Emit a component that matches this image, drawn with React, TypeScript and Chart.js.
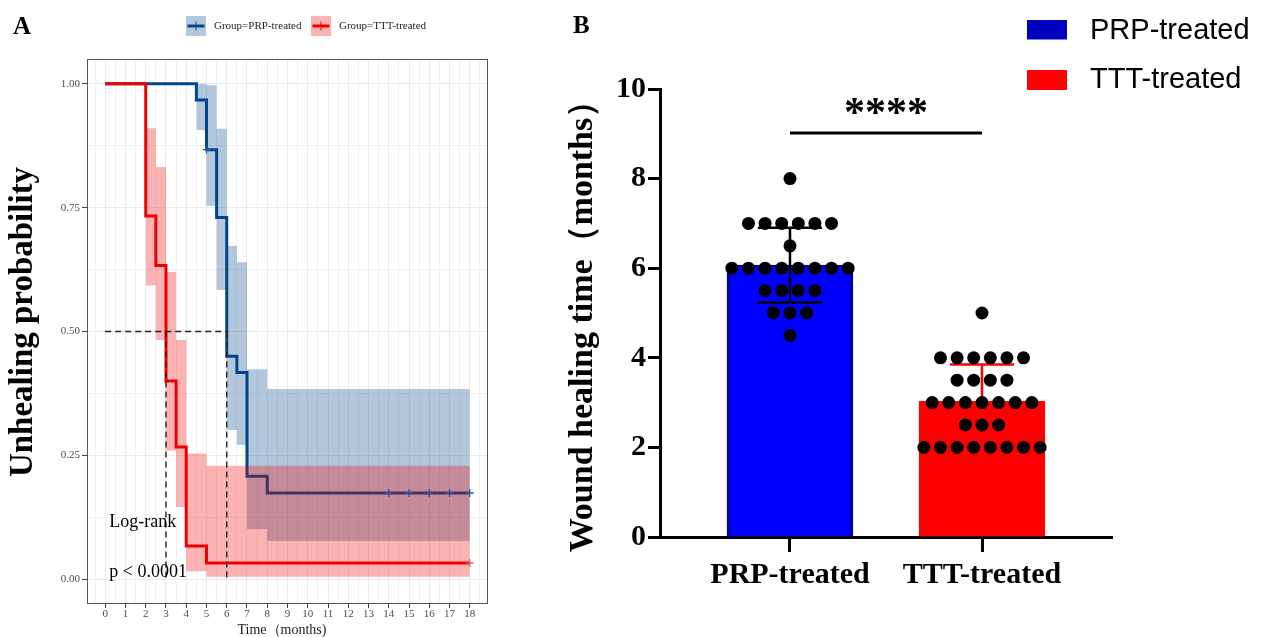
import React, { useEffect, useRef } from 'react';
import { Chart, registerables } from 'chart.js';

Chart.register(...registerables);

const SERIF = '"Liberation Serif", "Times New Roman", serif';
const SANS = '"Liberation Sans", Arial, sans-serif';

// ---------------- Panel A : Kaplan-Meier ----------------
const PRP_TIMES = [0, 4.5, 5, 5.5, 6, 6.5, 7, 8, 18];
const PRP_SURV = [1, 0.967, 0.867, 0.73, 0.45, 0.417, 0.208, 0.174, 0.174];
const PRP_CI_TIMES = [4.5, 5, 5.5, 6, 6.5, 7, 8, 18];
const PRP_UPPER = [1.0, 0.997, 0.909, 0.673, 0.64, 0.424, 0.384, 0.384];
const PRP_LOWER = [0.906, 0.754, 0.584, 0.301, 0.271, 0.101, 0.077, 0.077];
const PRP_CENSOR_TIMES = [5, 14, 15, 16, 17, 18];
const PRP_CENSOR_SURV = [0.867, 0.174, 0.174, 0.174, 0.174, 0.174];

const TTT_TIMES = [0, 2, 2.5, 3, 3.5, 4, 5, 18];
const TTT_SURV = [1, 0.733, 0.633, 0.4, 0.267, 0.067, 0.033, 0.033];
const TTT_CI_TIMES = [2, 2.5, 3, 3.5, 4, 5, 18];
const TTT_UPPER = [0.91, 0.832, 0.62, 0.483, 0.254, 0.229, 0.229];
const TTT_LOWER = [0.593, 0.483, 0.26, 0.146, 0.016, 0.005, 0.005];
const TTT_CENSOR_TIMES = [18];
const TTT_CENSOR_SURV = [0.033];

const MEDIAN_LEVEL = 0.5;
const MEDIAN_TIMES = [3, 6];

const X_TICKS_A = [0, 1, 2, 3, 4, 5, 6, 7, 8, 9, 10, 11, 12, 13, 14, 15, 16, 17, 18];
const X_MINOR_A = [-0.5, ...X_TICKS_A.map((v) => v + 0.5)];
const Y_TICKS_A = [0, 0.25, 0.5, 0.75, 1];
const Y_MINOR_A = [0.125, 0.375, 0.625, 0.875];

const LEGEND_A_LABELS = ['Group=PRP-treated', 'Group=TTT-treated'];
const LOGRANK_TEXT = ['Log-rank', 'p < 0.0001'];
const LOGRANK_X = 0.2;
const LOGRANK_Y = [0.106, 0.005];

const BLUE = '#00468B';
const RED = '#ED0000';
const BLUE_BAND = 'rgba(0,70,139,0.3)';
const RED_BAND = 'rgba(237,0,0,0.3)';

// ---------------- Panel B : bar + dots ----------------
const CATEGORIES = ['PRP-treated', 'TTT-treated'];
const BAR_MEANS = [6.07, 3.03];
const BAR_SD = [0.835, 0.82];
const PRP_DOTS = [8, 7, 7, 7, 7, 7, 7, 6.5, 6, 6, 6, 6, 6, 6, 6, 6, 5.5, 5.5, 5.5, 5.5, 5, 5, 5, 4.5];
const TTT_DOTS = [5, 4, 4, 4, 4, 4, 4, 3.5, 3.5, 3.5, 3.5, 3, 3, 3, 3, 3, 3, 3, 2.5, 2.5, 2.5, 2, 2, 2, 2, 2, 2, 2, 2];
const Y_TICKS_B = [0, 2, 4, 6, 8, 10];
const SIG_LEVEL = 9.02;
const SIG_TEXT = '****';

const pts = (xs: number[], ys: number[]) => xs.map((x, i) => ({ x, y: ys[i] }));

const DOT_SPACING = 0.0865;
function swarm(values: number[], center: number) {
  const counts = new Map<number, number>();
  values.forEach((v) => counts.set(v, (counts.get(v) || 0) + 1));
  const seen = new Map<number, number>();
  return values.map((v) => {
    const n = counts.get(v) as number;
    const i = seen.get(v) || 0;
    seen.set(v, i + 1);
    return { x: center + (i - (n - 1) / 2) * DOT_SPACING, y: v };
  });
}

const CAP_HALF = 0.167;
function errorBar(c: number, m: number, sd: number) {
  const lo = m - sd;
  const hi = m + sd;
  return [
    { x: c, y: lo }, { x: c, y: hi }, { x: c, y: null },
    { x: c - CAP_HALF, y: hi }, { x: c + CAP_HALF, y: hi }, { x: c, y: null },
    { x: c - CAP_HALF, y: lo }, { x: c + CAP_HALF, y: lo },
  ];
}

const GRID_MAJOR = '#EBEBEB';
const GRID_MINOR = '#F1F1F1';
const STEP = 'before';

function configA(): any {
  const isMajorX = (v: number) => X_TICKS_A.includes(v);
  const isMajorY = (v: number) => Y_TICKS_A.includes(v);
  const band = (x: number[], y: number[], color: string, fill: any, order: number) => ({
    type: 'line', data: pts(x, y), stepped: STEP, borderWidth: 0, borderColor: 'rgba(0,0,0,0)',
    pointRadius: 0, fill, backgroundColor: color, order,
  });
  const plugin = {
    id: 'panelA',
    afterDatasetsDraw(chart: any) {
      const { ctx, chartArea: a, scales } = chart;
      ctx.save();
      ctx.strokeStyle = '#555555';
      ctx.lineWidth = 1;
      ctx.strokeRect(Math.round(a.left) + 0.5, Math.round(a.top) + 0.5, Math.round(a.right - a.left) - 1, Math.round(a.bottom - a.top) - 1);
      ctx.fillStyle = '#000';
      ctx.font = `18px ${SERIF}`;
      ctx.textAlign = 'left';
      ctx.textBaseline = 'alphabetic';
      LOGRANK_TEXT.forEach((t, i) => {
        ctx.fillText(t, scales.x.getPixelForValue(LOGRANK_X), scales.y.getPixelForValue(LOGRANK_Y[i]));
      });
      ctx.restore();
    },
    afterDraw(chart: any) {
      const { ctx } = chart;
      ctx.save();
      ctx.fillStyle = '#000';
      ctx.font = `bold 33px ${SERIF}`;
      ctx.textAlign = 'center';
      ctx.textBaseline = 'alphabetic';
      ctx.translate(32, 322);
      ctx.rotate(-Math.PI / 2);
      ctx.fillText('Unhealing probability', 0, 0);
      ctx.restore();
      ctx.save();
      ctx.fillStyle = '#1a1a1a';
      ctx.font = `14px ${SERIF}`;
      ctx.textAlign = 'center';
      ctx.textBaseline = 'alphabetic';
      ctx.fillText('Time（months)', 282, 633.5);
      ctx.fillStyle = '#000';
      ctx.font = `bold 25px ${SERIF}`;
      ctx.textAlign = 'left';
      ctx.fillText('A', 13, 34);
      const keys = [
        { x: 186, line: BLUE, band: BLUE_BAND, label: LEGEND_A_LABELS[0] },
        { x: 311, line: RED, band: RED_BAND, label: LEGEND_A_LABELS[1] },
      ];
      keys.forEach((k) => {
        ctx.fillStyle = k.band;
        ctx.fillRect(k.x, 16, 20, 20);
        ctx.strokeStyle = k.line;
        ctx.lineWidth = 3;
        ctx.beginPath();
        ctx.moveTo(k.x + 1.5, 26);
        ctx.lineTo(k.x + 18.5, 26);
        ctx.stroke();
        ctx.lineWidth = 1;
        ctx.beginPath();
        ctx.moveTo(k.x + 10, 21.5);
        ctx.lineTo(k.x + 10, 30.5);
        ctx.stroke();
        ctx.fillStyle = '#222';
        ctx.font = `11px ${SERIF}`;
        ctx.textBaseline = 'middle';
        ctx.fillText(k.label, k.x + 28, 26.5);
      });
      ctx.restore();
    },
  };

  return {
    type: 'line',
    data: {
      datasets: [
        band(PRP_CI_TIMES, PRP_LOWER, BLUE_BAND, false, 3),
        band(PRP_CI_TIMES, PRP_UPPER, BLUE_BAND, '-1', 3),
        band(TTT_CI_TIMES, TTT_LOWER, RED_BAND, false, 2),
        band(TTT_CI_TIMES, TTT_UPPER, RED_BAND, '-1', 2),
        { type: 'line', label: 'PRP-treated', data: pts(PRP_TIMES, PRP_SURV), stepped: STEP, borderColor: BLUE, borderWidth: 3, pointRadius: 0, fill: false, order: 5 },
        { type: 'line', label: 'TTT-treated', data: pts(TTT_TIMES, TTT_SURV), stepped: STEP, borderColor: RED, borderWidth: 3, pointRadius: 0, fill: false, order: 4 },
        { type: 'line', data: pts(PRP_CENSOR_TIMES, PRP_CENSOR_SURV), showLine: false, pointStyle: 'cross', pointRadius: 4, pointBorderColor: '#2B5C9E', pointBorderWidth: 1.3, order: 1 },
        { type: 'line', data: pts(TTT_CENSOR_TIMES, TTT_CENSOR_SURV), showLine: false, pointStyle: 'cross', pointRadius: 4, pointBorderColor: '#F05A5A', pointBorderWidth: 1.3, order: 1 },
        { type: 'line', data: [{ x: 0, y: MEDIAN_LEVEL }, { x: MEDIAN_TIMES[1], y: MEDIAN_LEVEL }], borderColor: '#222', borderWidth: 1.4, borderDash: [6, 4], pointRadius: 0, order: 0 },
        { type: 'line', data: [{ x: MEDIAN_TIMES[0], y: MEDIAN_LEVEL }, { x: MEDIAN_TIMES[0], y: 0 }], borderColor: '#222', borderWidth: 1.4, borderDash: [6, 4], pointRadius: 0, order: 0 },
        { type: 'line', data: [{ x: MEDIAN_TIMES[1], y: MEDIAN_LEVEL }, { x: MEDIAN_TIMES[1], y: 0 }], borderColor: '#222', borderWidth: 1.4, borderDash: [6, 4], pointRadius: 0, order: 0 },
      ],
    },
    options: {
      animation: false,
      responsive: false,
      devicePixelRatio: 1,
      events: [],
      layout: { padding: { left: 0, top: 59, right: 12, bottom: 0 } },
      plugins: { legend: { display: false }, tooltip: { enabled: false }, title: { display: false } },
      scales: {
        x: {
          type: 'linear', min: -0.9, max: 18.9,
          afterBuildTicks: (s: any) => { s.ticks = [...X_TICKS_A, ...X_MINOR_A].sort((p, q) => p - q).map((value) => ({ value })); },
          afterFit: (s: any) => { s.height = 33; },
          border: { display: false },
          grid: {
            color: (c: any) => (isMajorX(c.tick?.value) ? GRID_MAJOR : GRID_MINOR),
            lineWidth: 1,
            tickColor: (c: any) => (isMajorX(c.tick?.value) ? '#444' : 'rgba(0,0,0,0)'),
            tickLength: 4,
            tickWidth: 1,
          },
          ticks: {
            autoSkip: false, maxRotation: 0, padding: 0,
            callback: (v: any) => (isMajorX(v) ? String(v) : ''),
            font: { family: SERIF, size: 11 }, color: '#4D4D4D',
          },
        },
        y: {
          type: 'linear', min: -0.05, max: 1.05,
          afterBuildTicks: (s: any) => { s.ticks = [...Y_TICKS_A, ...Y_MINOR_A].sort((p, q) => p - q).map((value) => ({ value })); },
          afterFit: (s: any) => { s.width = 87; },
          border: { display: false },
          grid: {
            color: (c: any) => (isMajorY(c.tick?.value) ? GRID_MAJOR : GRID_MINOR),
            lineWidth: 1,
            tickColor: (c: any) => (isMajorY(c.tick?.value) ? '#444' : 'rgba(0,0,0,0)'),
            tickLength: 5,
            tickWidth: 1,
          },
          ticks: {
            autoSkip: false, padding: 2,
            callback: (v: any) => (isMajorY(v) ? Number(v).toFixed(2) : ''),
            font: { family: SERIF, size: 11 }, color: '#4D4D4D',
          },
        },
      },
    },
    plugins: [plugin],
  };
}

function configB(): any {
  const plugin = {
    id: 'panelB',
    afterDraw(chart: any) {
      const { ctx, scales } = chart;
      ctx.save();
      ctx.fillStyle = '#000';
      ctx.font = `bold 42px ${SERIF}`;
      ctx.textAlign = 'center';
      ctx.textBaseline = 'alphabetic';
      ctx.fillText(SIG_TEXT, scales.x.getPixelForValue(1.5), scales.y.getPixelForValue(SIG_LEVEL) - 7);
      ctx.save();
      ctx.font = `bold 34px ${SERIF}`;
      ctx.translate(72, 318);
      ctx.rotate(-Math.PI / 2);
      ctx.fillText('Wound healing time（months）', 0, 0);
      ctx.restore();
      ctx.font = `bold 25px ${SERIF}`;
      ctx.textAlign = 'left';
      ctx.fillText('B', 53, 33);
      const items = [
        { y: 20, h: 19.5, color: '#0000BF', label: CATEGORIES[0], base: 38.5 },
        { y: 70, h: 20, color: '#FF0000', label: CATEGORIES[1], base: 87.5 },
      ];
      items.forEach((it) => {
        ctx.fillStyle = it.color;
        ctx.fillRect(507, it.y, 40, it.h);
        ctx.fillStyle = '#000';
        ctx.font = `29px ${SANS}`;
        ctx.fillText(it.label, 570, it.base);
      });
      ctx.restore();
    },
  };

  return {
    type: 'bar',
    data: {
      datasets: [
        { type: 'scatter', data: swarm(PRP_DOTS, 1), pointRadius: 6.5, pointBackgroundColor: '#000', pointBorderWidth: 0, order: 0 },
        { type: 'scatter', data: swarm(TTT_DOTS, 2), pointRadius: 6.5, pointBackgroundColor: '#000', pointBorderWidth: 0, order: 0 },
        { type: 'line', data: errorBar(1, BAR_MEANS[0], BAR_SD[0]), borderColor: '#000', borderWidth: 2.5, pointRadius: 0, spanGaps: false, order: 1 },
        { type: 'line', data: errorBar(2, BAR_MEANS[1], BAR_SD[1]), borderColor: '#FF0000', borderWidth: 2.5, pointRadius: 0, spanGaps: false, order: 1 },
        { type: 'line', data: [{ x: 1, y: SIG_LEVEL }, { x: 2, y: SIG_LEVEL }], borderColor: '#000', borderWidth: 3, pointRadius: 0, order: 1 },
        {
          type: 'bar', data: [{ x: 1, y: BAR_MEANS[0] }, { x: 2, y: BAR_MEANS[1] }],
          backgroundColor: ['#0000FF', '#FF0000'], borderColor: ['#0000B4', '#FF0000'],
          borderWidth: { top: 2, left: 4, right: 4, bottom: 0 }, borderSkipped: 'bottom',
          barThickness: 126, order: 2,
        },
      ],
    },
    options: {
      animation: false,
      responsive: false,
      devicePixelRatio: 1,
      events: [],
      layout: { padding: { left: 0, top: 89, right: 152, bottom: 0 } },
      plugins: { legend: { display: false }, tooltip: { enabled: false }, title: { display: false } },
      scales: {
        x: {
          type: 'linear', min: 0.323, max: 2.677, offset: false,
          afterBuildTicks: (s: any) => { s.ticks = [1, 2].map((value) => ({ value })); },
          afterFit: (s: any) => { s.height = 100; },
          border: { display: true, color: '#000', width: 3 },
          grid: { display: true, drawOnChartArea: false, offset: false, tickLength: 15, tickWidth: 3, tickColor: '#000', color: '#000' },
          ticks: {
            autoSkip: false, maxRotation: 0, padding: 5,
            callback: (_v: any, i: number) => CATEGORIES[i],
            font: { family: SERIF, size: 30, weight: 'bold' }, color: '#000',
          },
        },
        y: {
          type: 'linear', min: 0, max: 10,
          afterBuildTicks: (s: any) => { s.ticks = Y_TICKS_B.map((value) => ({ value })); },
          afterFit: (s: any) => { s.width = 140; },
          border: { display: true, color: '#000', width: 3 },
          grid: { display: true, drawOnChartArea: false, tickLength: 12, tickWidth: 3, tickColor: '#000', color: '#000' },
          ticks: {
            autoSkip: false, padding: 2,
            callback: (v: any) => String(v),
            font: { family: SERIF, size: 30, weight: 'bold' }, color: '#000',
          },
        },
      },
    },
    plugins: [plugin],
  };
}

export default function App() {
  const refA = useRef<HTMLCanvasElement>(null);
  const refB = useRef<HTMLCanvasElement>(null);
  useEffect(() => {
    const a = new Chart(refA.current as HTMLCanvasElement, configA());
    const b = new Chart(refB.current as HTMLCanvasElement, configB());
    return () => {
      a.destroy();
      b.destroy();
    };
  }, []);
  return (
    <div style={{ position: 'absolute', left: 0, top: 0, width: 1264, height: 637, background: '#fff', overflow: 'hidden' }}>
      <canvas ref={refA} width={500} height={637} style={{ position: 'absolute', left: 0, top: 0, width: 500, height: 637 }} />
      <canvas ref={refB} width={744} height={637} style={{ position: 'absolute', left: 520, top: 0, width: 744, height: 637 }} />
    </div>
  );
}
